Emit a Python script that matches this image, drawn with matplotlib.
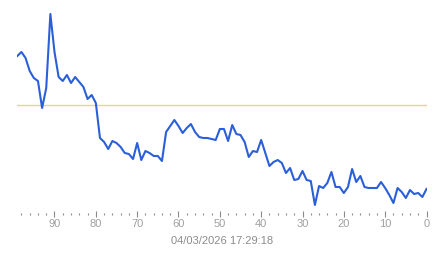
import matplotlib
matplotlib.use("Agg")
import matplotlib.pyplot as plt
from matplotlib.ticker import MultipleLocator

# samples ago (99 ... 0) and measured level
ages = list(range(99, -1, -1))
levels = [
    158, 162, 156, 143, 136, 133, 106, 126, 200, 162,   # 99..90
    137, 133, 139, 131, 137, 132, 127, 115, 119, 111,   # 89..80
    76, 72, 65, 73, 71, 67, 61, 60, 55, 71,             # 79..70
    54, 63, 61, 58, 58, 53, 82, 88, 94, 88,             # 69..60
    81, 86, 90, 82, 77, 76, 76, 75, 74, 85,             # 59..50
    85, 73, 89, 80, 79, 72, 57, 63, 62, 74,             # 49..40
    61, 48, 52, 54, 51, 41, 46, 34, 35, 43,             # 39..30
    34, 33, 9, 28, 26, 31, 42, 27, 27, 21,              # 29..20
    27, 45, 32, 38, 27, 26, 26, 26, 32, 26,             # 19..10
    19, 11, 26, 22, 16, 24, 20, 21, 17, 25,             # 9..0
]
ref_level = 109
stamp = "04/03/2026 17:29:18"

fig = plt.figure(figsize=(4.43, 2.58), dpi=100)
ax = fig.add_axes([17.3 / 443, (258 - 214) / 258, (426.5 - 17.3) / 443, 214 / 258])

ax.axhline(ref_level, color="#f3d27c", lw=1.0, zorder=1)
ax.plot(ages, levels, color="#2b5fd9", lw=1.5, zorder=2)

ax.set_xlim(99, 0)
ax.set_ylim(0, 214)
ax.xaxis.set_major_locator(MultipleLocator(10))
ax.xaxis.set_minor_locator(MultipleLocator(2))
ax.set_yticks([])
for s in ax.spines.values():
    s.set_visible(False)

ax.tick_params(axis="x", which="major", direction="inout", length=4, width=0.8,
               color="#8a8a8a", labelcolor="#a0a0a0", labelsize=8, pad=1.5)
ax.tick_params(axis="x", which="minor", direction="inout", length=1.5, width=0.8,
               color="#8a8a8a")
for lbl in ax.get_xticklabels():
    lbl.set_fontfamily("Liberation Sans")

ax.set_xlabel(stamp, color="#8c8c8c", fontsize=8, family="Liberation Sans", labelpad=5)

fig.savefig("out.png", dpi=100)
